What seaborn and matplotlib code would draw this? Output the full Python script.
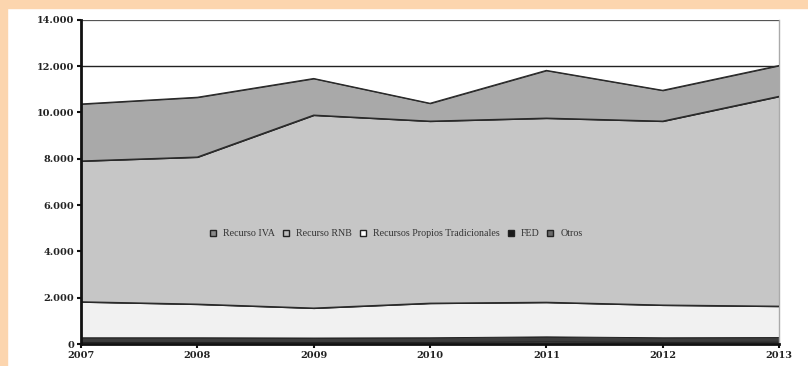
import matplotlib
matplotlib.use("Agg")
import matplotlib.pyplot as plt
import seaborn as sns
import numpy as np
from matplotlib.patches import Rectangle
from matplotlib.lines import Line2D
from matplotlib.ticker import FuncFormatter, MultipleLocator

years = [2007, 2008, 2009, 2010, 2011, 2012, 2013]
otros = [90, 90, 90, 90, 110, 90, 100]
fed = [200, 200, 190, 200, 220, 200, 200]
rpt = [1530, 1430, 1270, 1470, 1470, 1390, 1330]
rnb = [6080, 6350, 8330, 7860, 7950, 7940, 9060]
iva = [2460, 2580, 1580, 770, 2060, 1330, 1330]

labels = ["Recurso IVA", "Recurso RNB", "Recursos Propios Tradicionales", "FED", "Otros"]
colors = {"Recurso IVA": "#a9a9a9", "Recurso RNB": "#c6c6c6",
          "Recursos Propios Tradicionales": "#f1f1f1", "FED": "#3c3c3c", "Otros": "#6a6a6a"}
legend_colors = {"Recurso IVA": "#8a8a8a", "Recurso RNB": "#bdbdbd",
                 "Recursos Propios Tradicionales": "#ffffff", "FED": "#1a1a1a", "Otros": "#6a6a6a"}

sns.set_theme(style="white")
plt.rcParams['font.family'] = ['Liberation Serif', 'DejaVu Serif']

fig = plt.figure(figsize=(8.08, 3.66), dpi=100)
fig.patch.set_facecolor("white")
fig.patches.append(Rectangle((0, 0), 7/808, 1, transform=fig.transFigure, color="#fcd5ae", zorder=0))
fig.patches.append(Rectangle((0, 1-8/366), 1, 8/366, transform=fig.transFigure, color="#fcd5ae", zorder=0))

ax = fig.add_axes([81/808, 22/366, 698/808, 324.3/366])
ax.set_facecolor("white")

stack_order = [("Otros", otros), ("FED", fed), ("Recursos Propios Tradicionales", rpt),
               ("Recurso RNB", rnb), ("Recurso IVA", iva)]
ys = [np.array(v) for _, v in stack_order]
ax.stackplot(years, *ys, colors=[colors[n] for n, _ in stack_order],
             edgecolor="#222222", linewidth=0.7, zorder=2)
cum = np.cumsum(ys, axis=0)
for row in cum[2:]:
    sns.lineplot(x=years, y=row, ax=ax, color="#2a2a2a", linewidth=0.9, zorder=3)

ax.set_xlim(2007, 2013)
ax.set_ylim(0, 14000)
ax.yaxis.set_major_locator(MultipleLocator(2000))
ax.yaxis.set_major_formatter(FuncFormatter(lambda v, p: f"{int(v):,}".replace(",", ".")))
ax.set_xticks(years)
ax.set_xticklabels([str(y) for y in years])
ax.axhline(12000, color="#222222", linewidth=1.0, zorder=1)
ax.axhline(14000, color="#555555", linewidth=0.9, zorder=1)

ax.spines["top"].set_visible(False)
ax.spines["right"].set_color("#aaaaaa")
ax.spines["right"].set_linewidth(1.0)
ax.spines["left"].set_color("#111111")
ax.spines["left"].set_linewidth(2.0)
ax.spines["bottom"].set_color("#111111")
ax.spines["bottom"].set_linewidth(2.0)
ax.spines["left"].set_zorder(5)
ax.spines["bottom"].set_zorder(5)

ax.tick_params(axis="both", which="major", direction="out", length=3, width=1.5,
               color="#111111", labelsize=7, pad=2, left=True, bottom=True)
for t in ax.get_xticklabels() + ax.get_yticklabels():
    t.set_fontweight("bold")
    t.set_fontfamily("DejaVu Serif")
    t.set_color("#222222")

handles = [Line2D([0], [0], marker="s", linestyle="none", markersize=5,
                  markerfacecolor=legend_colors[n], markeredgecolor="#222222",
                  markeredgewidth=1.0) for n in labels]
leg = ax.legend(handles, labels, loc="center", bbox_to_anchor=(0.451, 0.34), ncol=5,
                frameon=False, fontsize=7.2, handlelength=0.8, handletextpad=0.6,
                columnspacing=0.7)
for t in leg.get_texts():
    t.set_color("#333333")
leg.set_zorder(6)

fig.savefig("out.png", dpi=100, facecolor="white")
